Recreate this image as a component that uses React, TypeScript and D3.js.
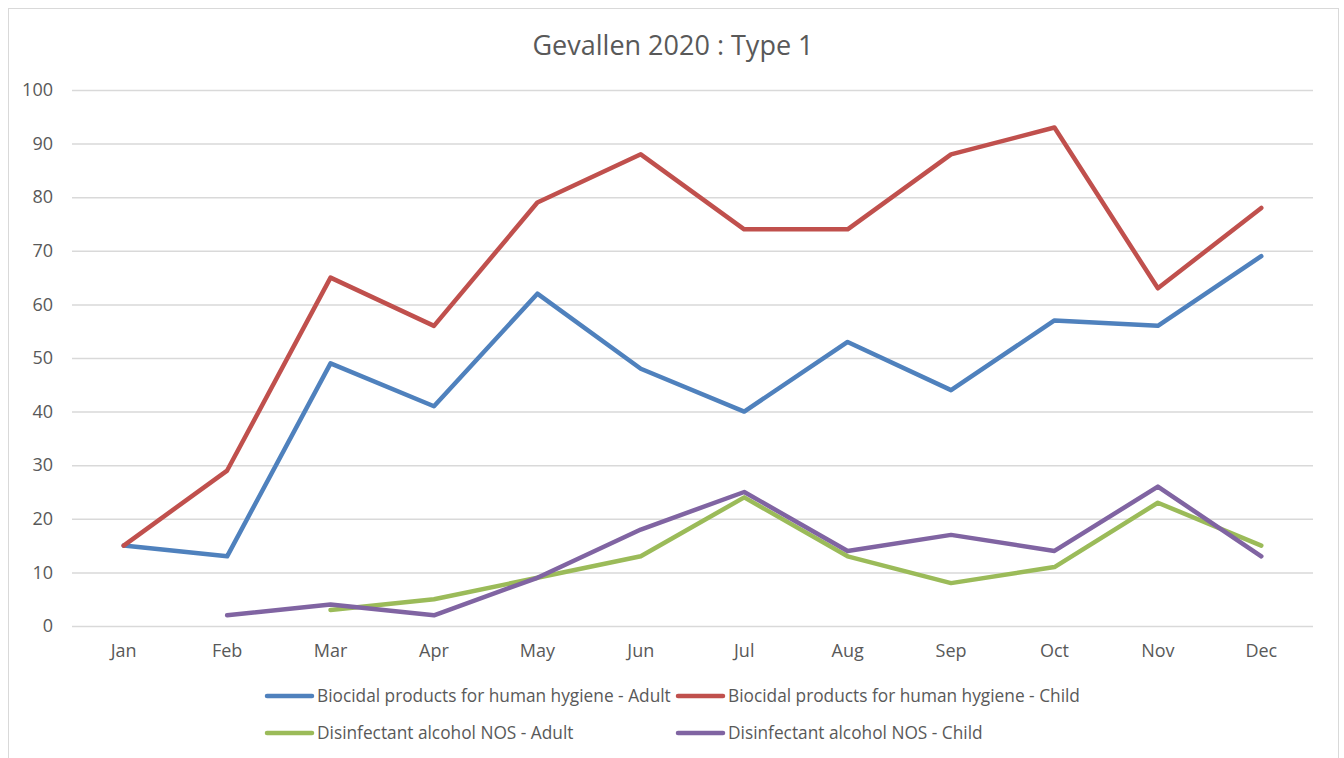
import React, { useEffect, useRef } from "react";
import * as d3 from "d3";

// Data
const months = ["Jan", "Feb", "Mar", "Apr", "May", "Jun", "Jul", "Aug", "Sep", "Oct", "Nov", "Dec"];
const bioAdult = [15, 13, 49, 41, 62, 48, 40, 53, 44, 57, 56, 69];
const bioChild = [15, 29, 65, 56, 79, 88, 74, 74, 88, 93, 63, 78];
const alcAdult = [null, null, 3, 5, 9, 13, 24, 13, 8, 11, 23, 15];
const alcChild = [null, 2, 4, 2, 9, 18, 25, 14, 17, 14, 26, 13];
const yTicks = [0, 10, 20, 30, 40, 50, 60, 70, 80, 90, 100];

const series = [
  { name: "Biocidal products for human hygiene - Adult", values: bioAdult, color: "#4F81BD" },
  { name: "Biocidal products for human hygiene - Child", values: bioChild, color: "#C0504D" },
  { name: "Disinfectant alcohol NOS - Adult", values: alcAdult, color: "#9BBB59" },
  { name: "Disinfectant alcohol NOS - Child", values: alcChild, color: "#8064A2" },
];

const W = 1344;
const H = 758;
const FONT = "'Open Sans', sans-serif";

const App = () => {
  const svgRef = useRef<SVGSVGElement>(null);

  useEffect(() => {
    const margin = { top: 90, right: 31, bottom: 132, left: 72 };
    const svg = d3.select(svgRef.current);
    svg.selectAll("*").remove();

    svg
      .append("rect")
      .attr("x", 8.5)
      .attr("y", 8.5)
      .attr("width", 1330)
      .attr("height", 760)
      .attr("fill", "#fff")
      .attr("stroke", "#d9d9d9");

    svg
      .append("text")
      .attr("x", 673)
      .attr("y", 55)
      .attr("text-anchor", "middle")
      .style("font-family", FONT)
      .style("font-size", "27px")
      .style("fill", "#595959")
      .text("Gevallen 2020 : Type 1");

    const x = d3
      .scaleBand()
      .domain(months)
      .range([margin.left, W - margin.right]);

    const y = d3
      .scaleLinear()
      .domain([0, 100])
      .range([H - margin.bottom, margin.top]);

    // Gridlines + y labels
    const yAxis = svg
      .append("g")
      .attr("transform", `translate(${margin.left},0)`)
      .call(
        d3
          .axisLeft(y)
          .tickValues(yTicks)
          .tickSize(-(W - margin.left - margin.right))
          .tickPadding(19)
      );
    yAxis.select(".domain").remove();
    yAxis.selectAll("line").attr("stroke", "#d9d9d9").attr("stroke-width", 1.5);
    yAxis
      .selectAll("text")
      .style("font-family", FONT)
      .style("font-size", "18px")
      .style("fill", "#595959");

    // x labels
    const xAxis = svg
      .append("g")
      .attr("transform", `translate(0,${H - margin.bottom})`)
      .call(d3.axisBottom(x).tickSize(0).tickPadding(18));
    xAxis.select(".domain").remove();
    xAxis
      .selectAll("text")
      .style("font-family", FONT)
      .style("font-size", "18px")
      .style("fill", "#595959");

    // Lines
    const line = d3
      .line<number | null>()
      .defined((d) => d !== null)
      .x((_, i) => (x(months[i]) as number) + x.bandwidth() / 2)
      .y((d) => y(d as number));

    svg
      .append("g")
      .selectAll("path")
      .data(series)
      .join("path")
      .attr("d", (d) => line(d.values))
      .attr("fill", "none")
      .attr("stroke", (d) => d.color)
      .attr("stroke-width", 4.5)
      .attr("stroke-linejoin", "round")
      .attr("stroke-linecap", "round");

    // Legend
    const legendPos = [
      [267, 696],
      [678, 696],
      [267, 733],
      [678, 733],
    ];
    const legend = svg
      .append("g")
      .selectAll("g")
      .data(series)
      .join("g")
      .attr("transform", (_, i) => `translate(${legendPos[i][0]},${legendPos[i][1]})`);
    legend
      .append("line")
      .attr("x1", 0)
      .attr("x2", 45)
      .attr("stroke", (d) => d.color)
      .attr("stroke-width", 4.5)
      .attr("stroke-linecap", "round");
    legend
      .append("text")
      .attr("x", 50)
      .attr("dy", "0.35em")
      .style("font-family", FONT)
      .style("font-size", "17.3px")
      .style("fill", "#595959")
      .text((d) => d.name);
  }, []);

  return (
    <svg
      ref={svgRef}
      width={W}
      height={H}
      style={{ position: "absolute", left: 0, top: 0 }}
    ></svg>
  );
};

export default App;
